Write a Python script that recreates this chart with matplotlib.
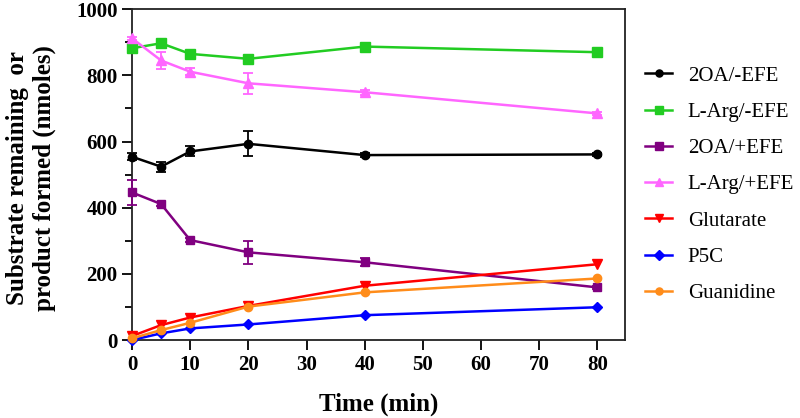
import matplotlib
matplotlib.use("Agg")
import matplotlib.pyplot as plt
from matplotlib.ticker import MultipleLocator

time = [0, 5, 10, 20, 40, 80]
oa_minus = [554, 524, 570, 593, 559, 561]
oa_minus_err = [10, 15, 15, 38, 5, 5]
arg_minus = [882, 897, 865, 850, 887, 870]
arg_minus_err = [5, 5, 5, 5, 5, 5]
oa_plus = [446, 411, 302, 265, 235, 159]
oa_plus_err = [38, 5, 5, 34, 12, 5]
arg_plus = [912, 845, 811, 776, 749, 685]
arg_plus_err = [5, 25, 10, 31, 8, 5]
glutarate = [12, 45, 68, 103, 164, 229]
p5c = [0, 20, 35, 47, 75, 99]
guanidine = [5, 30, 52, 101, 144, 186]

labels = ["2OA/-EFE", "L-Arg/-EFE", "2OA/+EFE", "L-Arg/+EFE", "Glutarate", "P5C", "Guanidine"]

plt.rcParams['font.family'] = ['Liberation Serif', 'DejaVu Serif']

fig = plt.figure(figsize=(8, 4.18), dpi=100)
ax = fig.add_axes([0.165, 0.1866, 0.616, 0.7914])

series = [
    (oa_minus, oa_minus_err, '#000000', 'o', 6),
    (arg_minus, arg_minus_err, '#22cc22', 's', 7),
    (oa_plus, oa_plus_err, '#800080', 's', 6),
    (arg_plus, arg_plus_err, '#ff66ff', '^', 7),
    (glutarate, None, '#ff0000', 'v', 7),
    (p5c, None, '#0000ff', 'D', 5.5),
    (guanidine, None, '#ff8c1a', 'o', 6),
]
handles = []
order = [6, 5, 4, 2, 0, 3, 1]
for i in order:
    vals, err, col, mk, ms = series[i]
    if err is not None:
        ax.errorbar(time, vals, yerr=err, color=col, ecolor=col, elinewidth=1.3,
                    capsize=3.5, capthick=1.3, fmt='none', clip_on=False, zorder=2 + i)
    ax.plot(time, vals, color=col, marker=mk, markersize=ms, linewidth=1.8,
            clip_on=False, zorder=3 + i)
for i in range(7):
    vals, err, col, mk, ms = series[i]
    h, = ax.plot([], [], color=col, marker=mk, markersize=ms * 0.85, linewidth=1.8)
    handles.append(h)

ax.set_xlim(0, 84.7)
ax.set_ylim(0, 1000)
ax.xaxis.set_major_locator(MultipleLocator(10))
ax.yaxis.set_major_locator(MultipleLocator(200))
ax.yaxis.set_minor_locator(MultipleLocator(100))
ax.tick_params(axis='both', which='major', direction='out', length=7, width=1.3,
               labelsize=15, top=False, right=False)
ax.tick_params(axis='y', which='minor', direction='out', length=5, width=1.3)
for lab in ax.get_xticklabels() + ax.get_yticklabels():
    lab.set_fontweight('bold')
for s in ax.spines.values():
    s.set_linewidth(1.3)
    s.set_color('#222222')

ax.set_xlabel("Time (min)", fontsize=18, fontweight='bold', labelpad=13)
fig.text(0.0385, 0.575, "Substrate remaining  or\nproduct formed (nmoles)",
         fontsize=18, fontweight='bold', rotation=90, ha='center', va='center',
         linespacing=1.2, multialignment='center')

fig.legend(handles, labels, loc='upper left', bbox_to_anchor=(0.796, 0.862),
           frameon=False, fontsize=15, handlelength=1.3, labelspacing=0.8,
           handletextpad=0.75, borderaxespad=0)

fig.savefig("out.png", dpi=100)
